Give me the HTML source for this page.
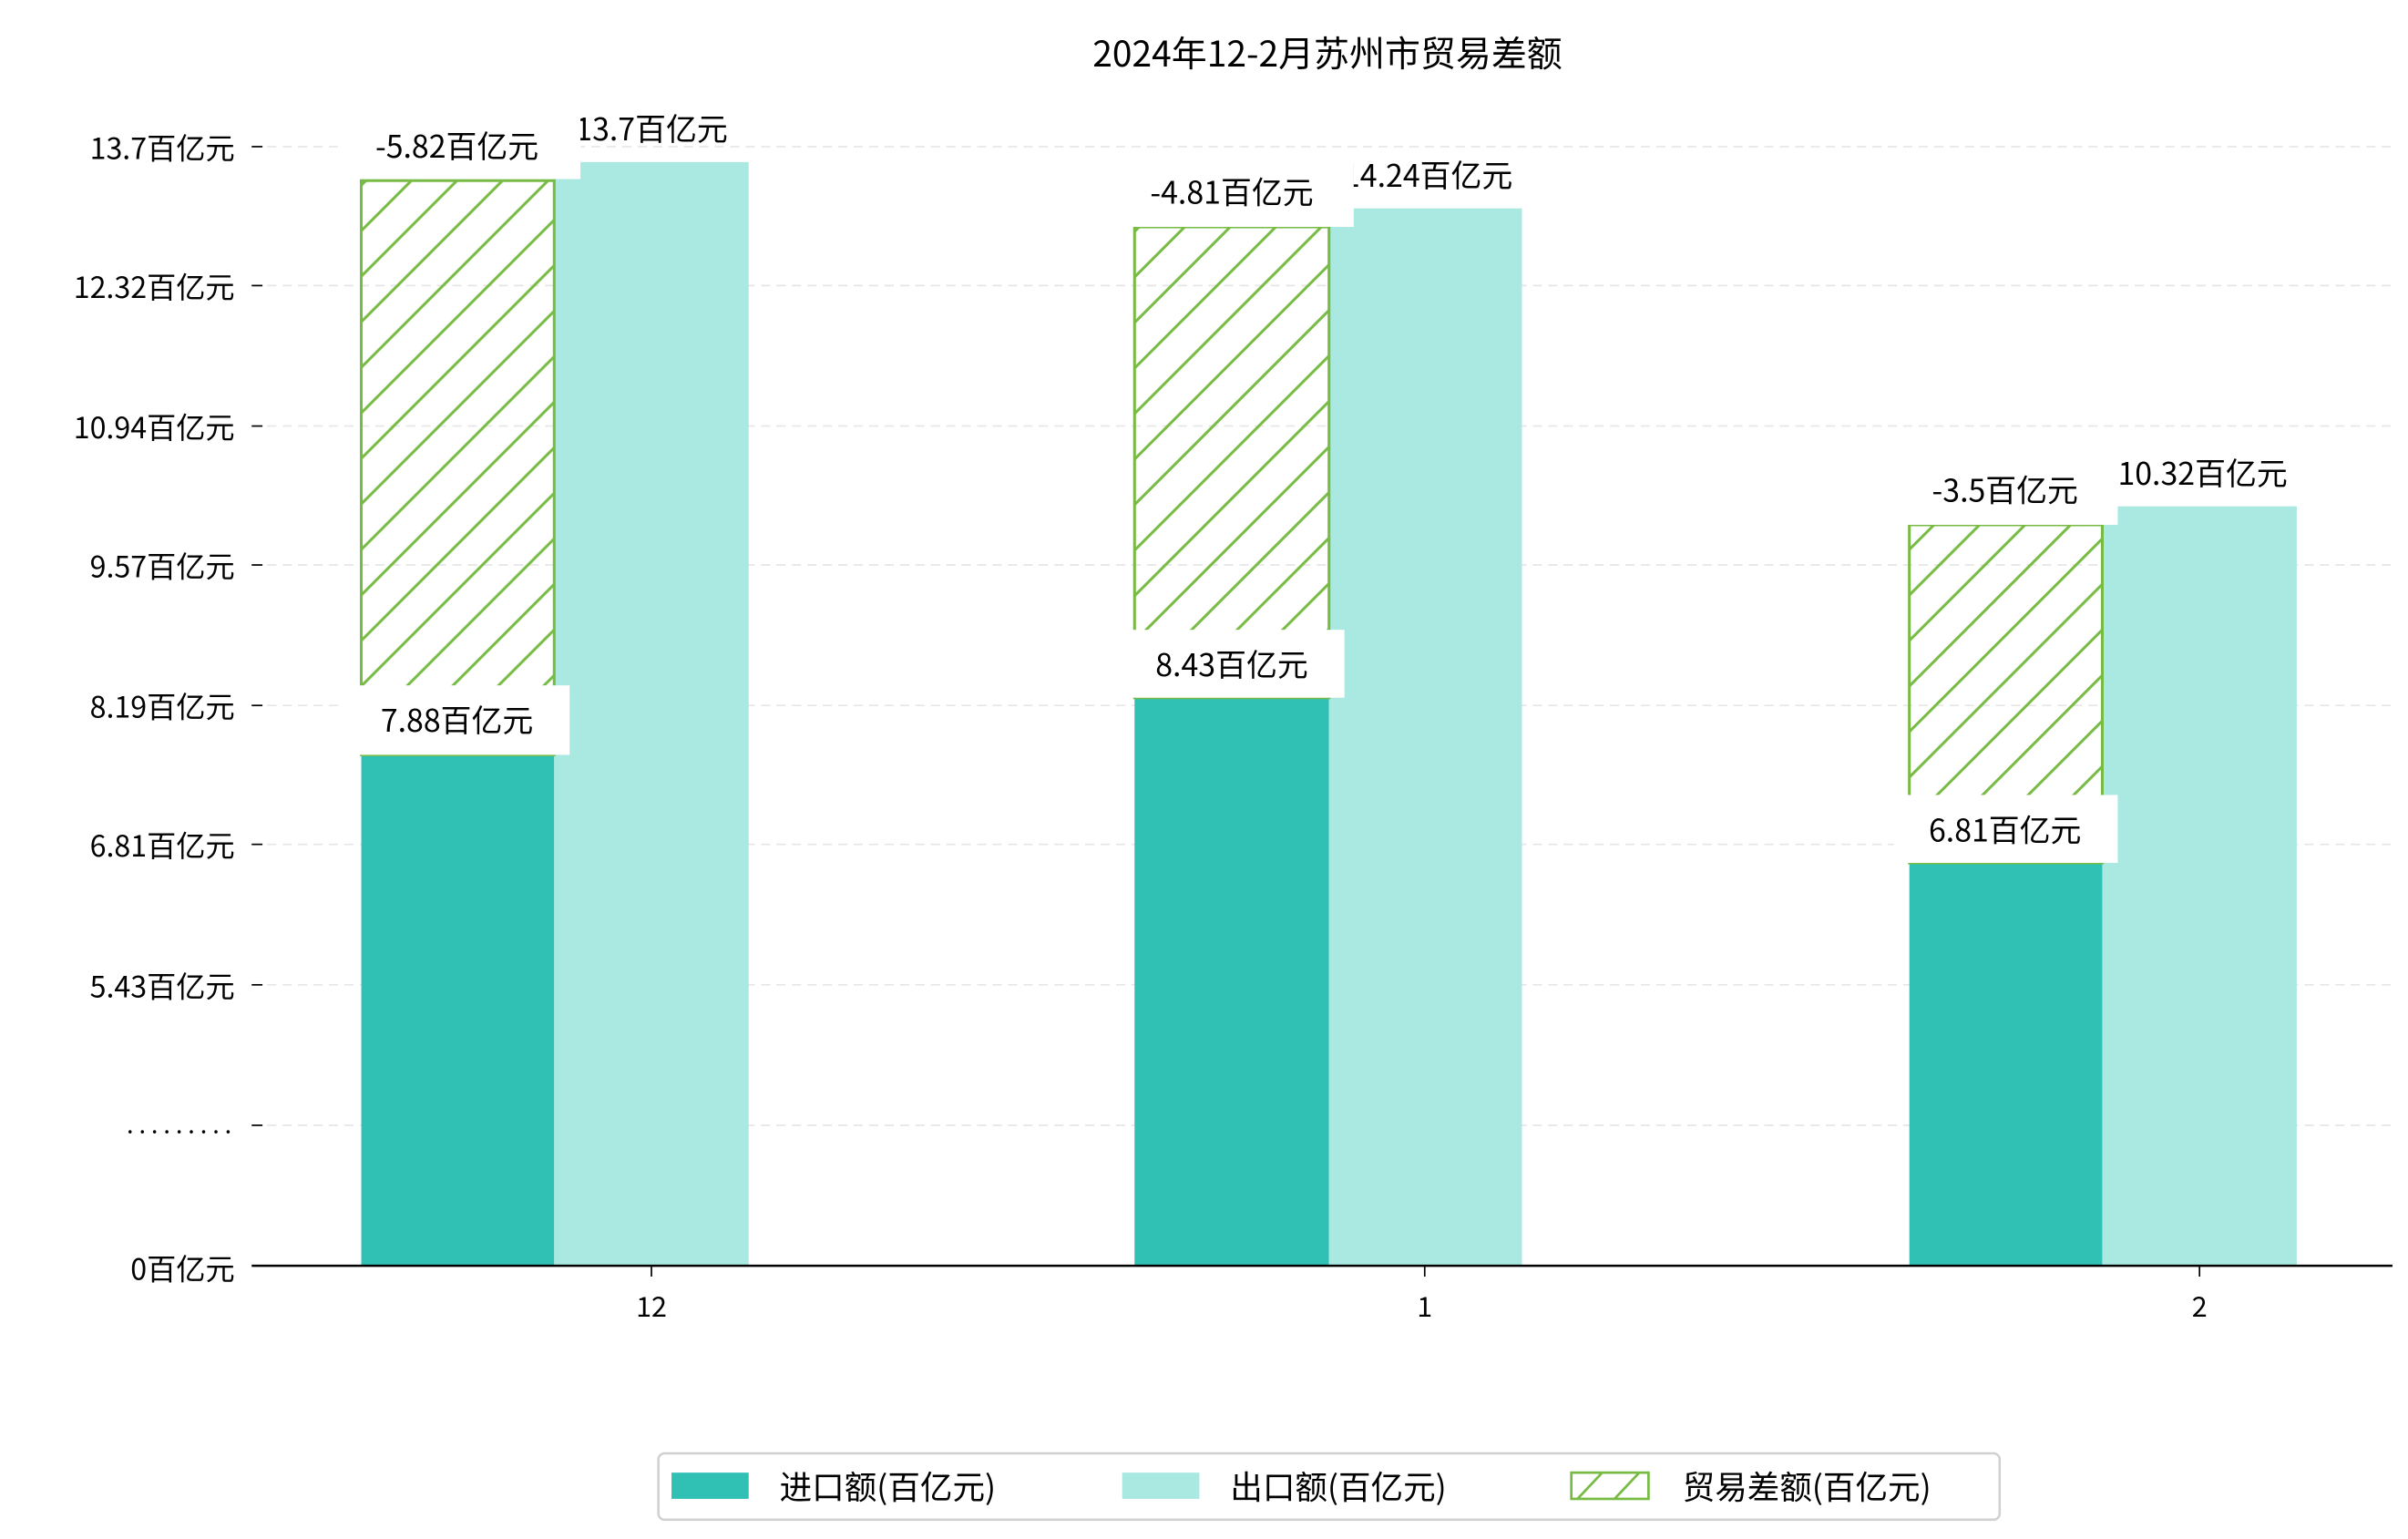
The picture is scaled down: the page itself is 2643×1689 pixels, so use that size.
<!DOCTYPE html>
<html><head><meta charset="utf-8"><style>
html,body{margin:0;padding:0;background:#fff;}
svg{display:block;}
text{font-family:"WenQuanYi Zen Hei","Noto Sans CJK SC",sans-serif;fill:#000;}
</style></head><body>
<svg width="2643" height="1689" viewBox="0 0 1560 997" xmlns="http://www.w3.org/2000/svg">
<defs>
<pattern id="h" patternUnits="userSpaceOnUse" width="29.5" height="29.5">
<path d="M-3,3 L3,-3 M0,29.5 L29.5,0 M26.5,32.5 L32.5,26.5" stroke="#77bb44" stroke-width="1.8"/>
</pattern>
</defs>
<rect width="1560" height="997" fill="#fff"/>
<text x="860" y="43" font-size="23" text-anchor="middle">2024年12-2月苏州市贸易差额</text>
<g stroke="#e6e6e6" stroke-width="1" stroke-dasharray="6,4">
<line x1="163" x2="1550" y1="95" y2="95"/><line x1="163" x2="1550" y1="185" y2="185"/>
<line x1="163" x2="1550" y1="276" y2="276"/><line x1="163" x2="1550" y1="366" y2="366"/>
<line x1="163" x2="1550" y1="457" y2="457"/><line x1="163" x2="1550" y1="547" y2="547"/>
<line x1="163" x2="1550" y1="638" y2="638"/><line x1="163" x2="1550" y1="729" y2="729"/>
</g>
<g stroke="#000" stroke-width="1">
<line x1="163" x2="170" y1="95" y2="95"/><line x1="163" x2="170" y1="185" y2="185"/>
<line x1="163" x2="170" y1="276" y2="276"/><line x1="163" x2="170" y1="366" y2="366"/>
<line x1="163" x2="170" y1="457" y2="457"/><line x1="163" x2="170" y1="547" y2="547"/>
<line x1="163" x2="170" y1="638" y2="638"/><line x1="163" x2="170" y1="729" y2="729"/>
<line x1="422" x2="422" y1="820" y2="827"/><line x1="923" x2="923" y1="820" y2="827"/><line x1="1425" x2="1425" y1="820" y2="827"/>
</g>
<g font-size="19" text-anchor="end">
<text x="152" y="103">13.7百亿元</text><text x="152" y="193">12.32百亿元</text>
<text x="152" y="284">10.94百亿元</text><text x="152" y="374">9.57百亿元</text>
<text x="152" y="465">8.19百亿元</text><text x="152" y="555">6.81百亿元</text>
<text x="152" y="646">5.43百亿元</text>
<text x="152" y="829">0百亿元</text>
</g>
<text x="82" y="734" font-size="16" textLength="68" lengthAdjust="spacing">.........</text>
<g font-size="18" text-anchor="middle">
<text x="422" y="853">12</text><text x="923" y="853">1</text><text x="1425" y="853">2</text>
</g>
<rect x="234" y="489" width="125" height="331" fill="#31c0b4"/>
<rect x="359" y="105" width="126" height="715" fill="#aae8e2"/>
<rect x="735" y="452" width="126" height="368" fill="#31c0b4"/>
<rect x="861" y="135" width="125" height="685" fill="#aae8e2"/>
<rect x="1237" y="559" width="125" height="261" fill="#31c0b4"/>
<rect x="1362" y="328" width="126" height="492" fill="#aae8e2"/>
<g stroke="#77bb44" stroke-width="1.8">
<rect x="234" y="117" width="125" height="372" fill="url(#h)"/>
<rect x="735" y="147" width="126" height="305" fill="url(#h)"/>
<rect x="1237" y="340" width="125" height="219" fill="url(#h)"/>
</g>
<line x1="163" x2="1550" y1="820" y2="820" stroke="#000" stroke-width="1.5"/>
<g font-size="20" text-anchor="middle">
<text x="422" y="91">13.7百亿元</text>
<text x="925" y="121">14.24百亿元</text>
<text x="1427" y="314">10.32百亿元</text>
<rect x="222" y="72" width="154" height="44" fill="#fff"/><text x="296" y="102">-5.82百亿元</text>
<rect x="222" y="444" width="147" height="45" fill="#fff"/><text x="296" y="474">7.88百亿元</text>
<rect x="724" y="103" width="153" height="44" fill="#fff"/><text x="798" y="132">-4.81百亿元</text>
<rect x="724" y="408" width="147" height="44" fill="#fff"/><text x="798" y="438">8.43百亿元</text>
<rect x="1227" y="296" width="145" height="44" fill="#fff"/><text x="1299" y="325">-3.5百亿元</text>
<rect x="1227" y="515" width="145" height="44" fill="#fff"/><text x="1299" y="545">6.81百亿元</text>
</g>
<rect x="426.5" y="941.5" width="869" height="43" rx="4" fill="#fff" stroke="#d0d0d0" stroke-width="1.5"/>
<rect x="435" y="954" width="50" height="17" fill="#31c0b4"/>
<rect x="727" y="954" width="50" height="17" fill="#aae8e2"/>
<rect x="1018" y="954" width="50" height="17" fill="#fff" stroke="#77bb44" stroke-width="1.6"/>
<path d="M1022,971 L1038,954 M1046,971 L1062,954" stroke="#77bb44" stroke-width="1.6"/>
<g font-size="21">
<text x="505" y="971">进口额(百亿元)</text>
<text x="797" y="971">出口额(百亿元)</text>
<text x="1090" y="971">贸易差额(百亿元)</text>
</g>
</svg>
</body></html>
